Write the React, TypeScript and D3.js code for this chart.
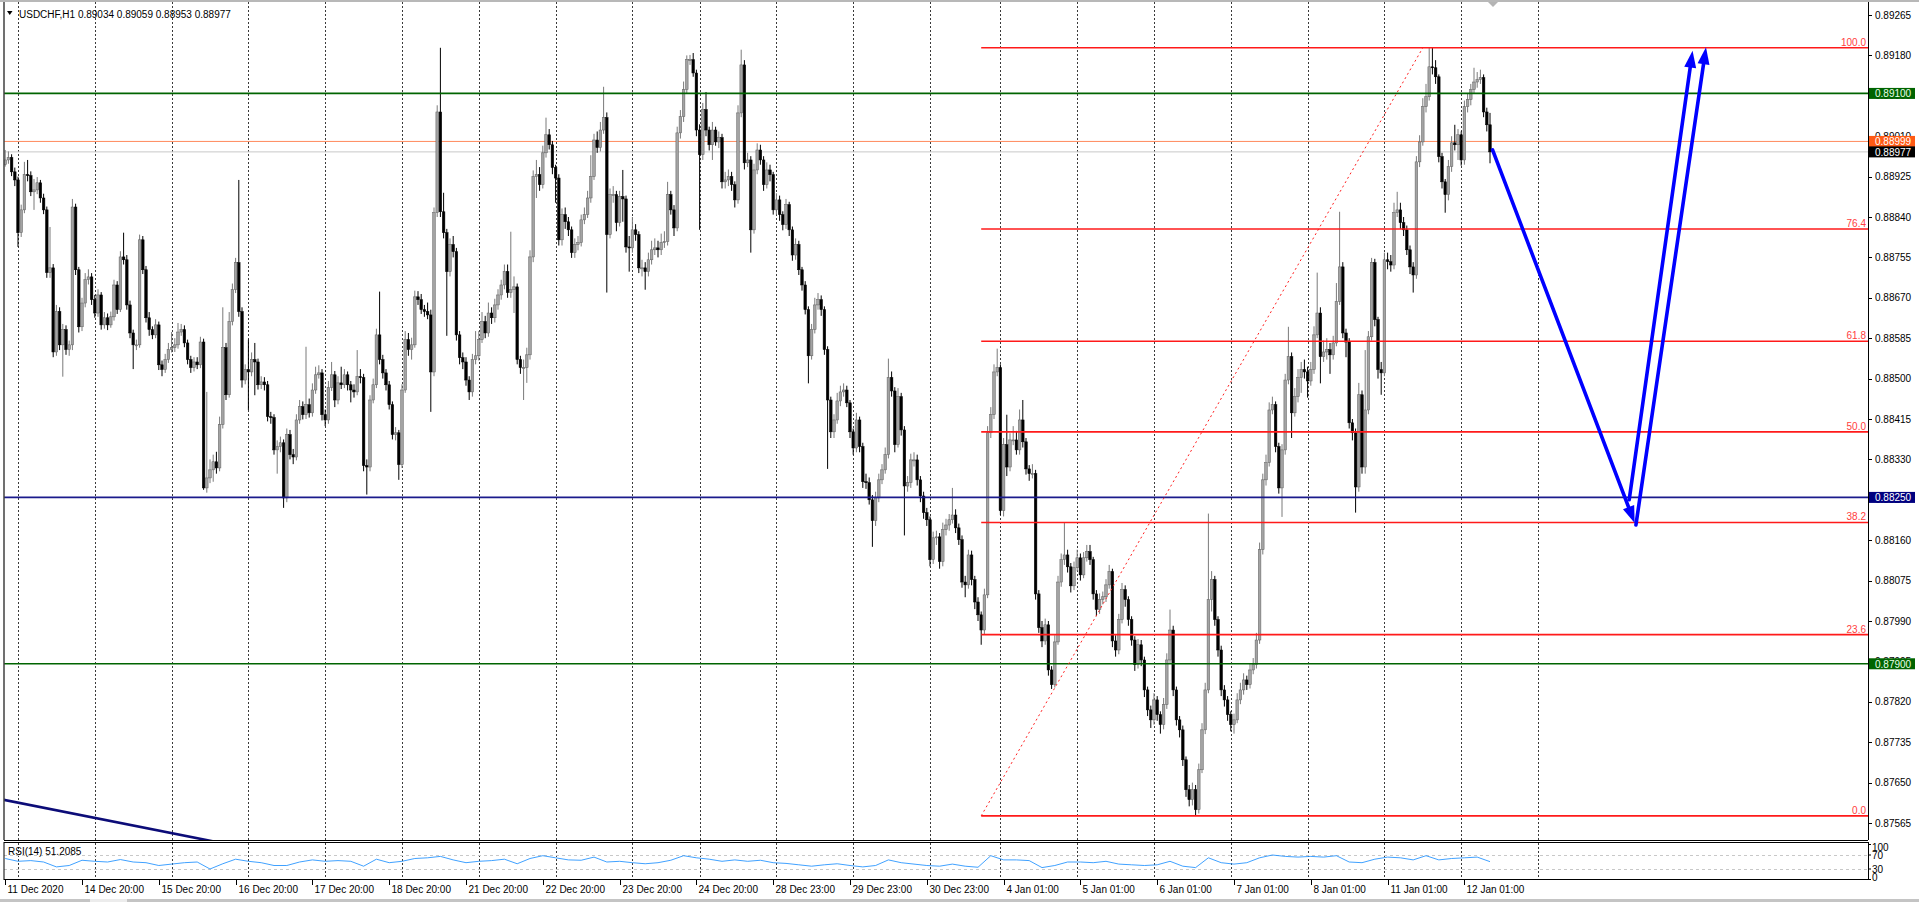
import React, { useEffect } from "react";
import * as d3 from "d3";

// ---------- DATA (prices in points of 1e-5) ----------
const symbolTitle = "USDCHF,H1";
const lastBarOHLC = ["0.89034", "0.89059", "0.88953", "0.88977"];
const firstOpen = 88950;

const closes = [
  88960,88965,88935,88918,88807,88855,88929,88927,88893,88897,
  88912,88880,88855,88723,88733,88556,88641,88571,88603,88561,
  88571,88861,88729,88609,88659,88708,88714,88666,88638,88676,
  88613,88628,88613,88630,88697,88645,88756,88750,88655,88596,
  88571,88571,88792,88729,88628,88603,88592,88613,88529,88519,
  88540,88561,88565,88571,88598,88603,88575,88540,88523,88535,
  88529,88577,88270,88291,88308,88325,88312,88403,88565,88466,
  88620,88687,88744,88641,88497,88519,88514,88540,88535,88487,
  88493,88487,88420,88418,88350,88357,88365,88249,88382,88340,
  88335,88413,88441,88424,88445,88428,88476,88508,88512,88424,
  88413,88481,88508,88455,88491,88487,88508,88487,88476,88472,
  88504,88502,88317,88314,88455,88487,88592,88540,88512,88487,
  88445,88382,88386,88319,88476,88582,88561,88571,88672,88666,
  88645,88641,88634,88514,88849,89061,88851,88807,88725,88782,
  88767,88592,88544,88535,88497,88472,88540,88548,88582,88620,
  88596,88638,88628,88655,88676,88697,88725,88681,88687,88693,
  88540,88523,88523,88550,88756,88925,88929,88908,88975,89013,
  88992,88944,88922,88792,88845,88830,88813,88765,88782,88786,
  88834,88845,88880,88925,89002,88986,89023,89049,88803,88887,
  88887,88828,88883,88878,88777,88775,88813,88803,88733,88733,
  88725,88750,88771,88775,88771,88786,88788,88887,88855,88817,
  89017,89051,89108,89171,89171,89143,89023,88971,89066,89023,
  88992,89023,88998,89007,88914,88918,88925,88908,88876,89059,
  89160,88954,88960,88813,88939,88981,88960,88908,88939,88929,
  88855,88876,88845,88824,88866,88813,88760,88782,88729,88697,
  88645,88548,88603,88655,88666,88645,88561,88455,88388,88413,
  88453,88472,88476,88449,88388,88354,88413,88357,88283,88281,
  88245,88201,88249,88287,88308,88340,88502,88474,88361,88462,
  88392,88274,88281,88329,88329,88287,88253,88218,88203,88119,
  88165,88167,88115,88182,88192,88203,88213,88186,88161,88072,
  88066,88129,88077,88030,88003,87971,88045,88386,88424,88514,
  88523,88222,88361,88314,88371,88371,88350,88413,88367,88310,
  88300,88300,88047,87976,87948,87982,87887,87856,87946,88072,
  88119,88129,88104,88064,88102,88123,88087,88123,88136,88119,
  88047,88014,88035,88041,88066,88094,87948,87929,87993,88056,
  88035,87993,87950,87898,87940,87908,87845,87803,87782,87824,
  87793,87772,87814,87908,87971,87845,87782,87761,87698,87635,
  87614,87635,87593,87677,87761,87845,88035,88077,87993,87929,
  87845,87824,87793,87772,87782,87824,87845,87866,87856,87887,
  87898,87950,88140,88287,88323,88434,88445,88357,88270,88350,
  88497,88546,88428,88462,88502,88519,88514,88495,88519,88592,
  88638,88546,88556,88561,88550,88575,88662,88735,88596,88577,
  88407,88386,88272,88466,88314,88434,88588,88744,88624,88519,
  88512,88750,88746,88739,88849,88855,88828,88813,88771,88735,
  88718,88956,88998,89072,89093,89156,89154,89135,88967,88914,
  88887,88946,88996,88992,89013,88960,89072,89087,89108,89124,
  89129,89133,89061,89034,88977,
];

const highs = [
  88981,88978,88972,88944,88925,88866,88956,88960,88936,88920,
  88924,88918,88889,88862,88819,88741,88655,88650,88615,88612,
  88580,88878,88868,88735,88670,88722,88730,88722,88676,88688,
  88682,88640,88637,88641,88708,88705,88768,88807,88760,88664,
  88603,88582,88803,88800,88737,88640,88610,88625,88620,88538,
  88552,88575,88598,88585,88617,88615,88612,88582,88548,88545,
  88545,88588,88584,88472,88330,88340,88346,88420,88650,88575,
  88640,88700,88754,88918,88650,88530,88582,88555,88575,88542,
  88505,88503,88495,88430,88425,88370,88378,88372,88395,88392,
  88352,88425,88455,88452,88567,88458,88490,88525,88528,88520,
  88435,88495,88535,88516,88505,88525,88520,88515,88495,88488,
  88560,88520,88510,88330,88465,88500,88605,88683,88550,88520,
  88495,88452,88398,88392,88488,88600,88596,88586,88685,88684,
  88678,88655,88660,88645,88860,89075,89196,88891,88815,88795,
  88800,88775,88600,88555,88545,88505,88552,88600,88600,88640,
  88632,88660,88650,88668,88688,88708,88740,88740,88809,88715,
  88700,88548,88540,88565,88770,88938,88960,88945,88990,89049,
  89025,89000,88950,88930,88858,88860,88840,88820,88795,88800,
  88845,88860,88895,88970,89015,89020,89040,89114,89060,88900,
  88905,88895,88895,88939,88885,88800,88840,88825,88810,88750,
  88745,88765,88790,88795,88790,88805,88810,88914,88895,88865,
  89030,89065,89125,89180,89181,89185,89150,89035,89080,89103,
  89030,89040,89030,89020,89015,88935,88940,88935,88915,89075,
  89192,89170,88975,88968,88952,88995,88992,88968,88955,88950,
  88935,88890,88885,88852,88878,88872,88820,88795,88790,88735,
  88705,88652,88615,88670,88680,88675,88652,88568,88462,88425,
  88470,88485,88490,88485,88455,88395,88428,88420,88365,88300,
  88292,88255,88262,88300,88320,88355,88542,88515,88482,88480,
  88470,88400,88295,88342,88345,88340,88295,88262,88228,88210,
  88178,88180,88175,88197,88205,88215,88270,88225,88195,88170,
  88085,88140,88138,88085,88040,88010,88058,88400,88440,88530,
  88563,88530,88375,88424,88385,88400,88390,88435,88455,88375,
  88318,88320,88308,88055,87990,87995,87990,87895,87960,88085,
  88132,88197,88140,88112,88115,88140,88132,88135,88150,88150,
  88125,88055,88048,88052,88078,88108,88100,87960,88005,88070,
  88065,88042,88000,87958,87952,87950,87915,87852,87812,87838,
  87832,87800,87828,87922,88014,87980,87852,87790,87770,87705,
  87645,87650,87645,87690,87775,87860,88216,88095,88085,88000,
  87938,87855,87832,87800,87795,87838,87860,87880,87875,87900,
  87912,87965,88155,88300,88340,88450,88462,88452,88365,88362,
  88510,88609,88555,88480,88520,88535,88540,88525,88535,88610,
  88723,88650,88580,88585,88575,88590,88701,88851,88745,88605,
  88585,88415,88395,88491,88475,88560,88600,88754,88752,88630,
  88535,88765,88765,88760,88870,88893,88870,88840,88822,88780,
  88745,88968,89012,89090,89120,89196,89196,89170,89140,88975,
  88920,88960,89010,89034,89025,89020,89085,89100,89120,89154,
  89145,89150,89140,89070,89059,
];

const lows = [
  88946,88952,88926,88905,88777,88798,88848,88915,88884,88855,
  88888,88870,88846,88712,88712,88545,88548,88560,88504,88550,
  88548,88560,88718,88597,88600,88650,88698,88655,88628,88630,
  88603,88605,88602,88607,88622,88636,88640,88740,88645,88585,
  88520,88560,88565,88720,88618,88590,88583,88585,88518,88505,
  88512,88533,88555,88556,88563,88590,88566,88530,88512,88515,
  88520,88522,88266,88260,88280,88283,88300,88305,88395,88455,
  88460,88612,88680,88630,88481,88488,88434,88505,88465,88477,
  88478,88475,88410,88405,88340,88300,88345,88228,88240,88330,
  88320,88328,88405,88414,88415,88418,88420,88468,88500,88412,
  88400,88405,88474,88440,88446,88478,88480,88475,88450,88460,
  88465,88490,88305,88256,88305,88448,88480,88530,88500,88475,
  88435,88372,88370,88287,88312,88470,88548,88540,88565,88655,
  88636,88630,88625,88430,88505,88840,88840,88795,88590,88715,
  88755,88580,88530,88520,88485,88455,88462,88530,88538,88575,
  88585,88588,88615,88618,88645,88666,88688,88670,88670,88638,
  88530,88510,88455,88491,88540,88745,88880,88895,88900,88965,
  88982,88930,88870,88780,88780,88815,88800,88754,88754,88770,
  88778,88825,88838,88870,88918,88975,88978,89015,88681,88795,
  88870,88810,88820,88830,88765,88725,88765,88790,88722,88715,
  88687,88715,88740,88760,88755,88760,88775,88780,88845,88800,
  88810,89005,89040,89100,89160,89135,89010,88813,88960,89010,
  88980,88960,88990,88985,88900,88900,88905,88895,88860,88868,
  89050,88940,88945,88765,88805,88930,88950,88895,88900,88915,
  88845,88845,88832,88812,88815,88800,88748,88750,88718,88685,
  88635,88490,88540,88595,88645,88632,88550,88310,88375,88375,
  88405,88442,88462,88440,88375,88340,88345,88345,88270,88268,
  88235,88146,88190,88240,88278,88300,88332,88462,88345,88355,
  88380,88170,88262,88270,88315,88275,88240,88205,88190,88105,
  88110,88150,88100,88105,88170,88180,88195,88175,88150,88060,
  88040,88058,88065,88015,87990,87940,87962,88038,88375,88415,
  88505,88213,88210,88295,88305,88360,88340,88340,88355,88298,
  88285,88290,88035,87965,87935,87940,87875,87847,87850,87940,
  88062,88108,88092,88050,88055,88095,88075,88080,88115,88108,
  88035,88000,88005,88025,88030,88058,87935,87915,87920,87985,
  88020,87980,87938,87885,87890,87895,87830,87790,87765,87772,
  87780,87753,87762,87805,87900,87832,87770,87745,87685,87620,
  87600,87602,87580,87585,87670,87752,87838,88010,87980,87915,
  87832,87810,87780,87758,87753,87775,87815,87835,87845,87848,
  87878,87890,87942,88130,88275,88315,88425,88345,88258,88209,
  88340,88488,88375,88420,88450,88470,88500,88460,88485,88510,
  88585,88490,88535,88540,88510,88540,88568,88655,88585,88545,
  88395,88370,88218,88262,88300,88300,88425,88580,88610,88500,
  88466,88505,88730,88725,88730,88840,88815,88800,88760,88720,
  88681,88710,88945,88990,89060,89085,89140,89120,88955,88900,
  88849,88875,88935,88980,88960,88948,88950,89060,89075,89100,
  89112,89120,89050,89020,88953,
];

// RSI(14) read every 4 bars
const rsiStep = 4;
const rsiValues = [
  60,52,54,50,36,40,55,52,50,57,50,48,40,44,48,50,30,45,58,52,
  48,40,40,50,56,52,54,52,38,58,48,52,60,62,66,56,48,52,54,58,
  45,60,68,62,56,55,64,50,52,48,45,48,55,68,62,58,52,56,52,55,
  48,46,42,38,42,45,40,36,40,56,48,44,40,38,44,38,35,68,56,56,
  54,34,40,50,50,48,52,44,42,40,42,52,38,34,62,48,44,48,62,70,
  66,64,66,64,68,50,48,58,64,62,56,68,56,60,62,64,51,
];
const rsiLabel = "RSI(14) 51.2085";
const rsiLevels = [70, 30];
const rsiAxisValues = [100, 70, 30, 0];

const priceTicks = [
  0.87565, 0.8765, 0.87735, 0.8782, 0.87905, 0.8799, 0.88075, 0.8816, 0.88245,
  0.8833, 0.88415, 0.885, 0.88585, 0.8867, 0.88755, 0.8884, 0.88925, 0.8901,
  0.89095, 0.8918, 0.89265,
];

const timeLabels = [
  "11 Dec 2020", "14 Dec 20:00", "15 Dec 20:00", "16 Dec 20:00", "17 Dec 20:00",
  "18 Dec 20:00", "21 Dec 20:00", "22 Dec 20:00", "23 Dec 20:00", "24 Dec 20:00",
  "28 Dec 23:00", "29 Dec 23:00", "30 Dec 23:00", "4 Jan 01:00", "5 Jan 01:00",
  "6 Jan 01:00", "7 Jan 01:00", "8 Jan 01:00", "11 Jan 01:00", "12 Jan 01:00",
];
const timeLabelStep = 24;
const gridBars = [4, 28, 52, 76, 100, 124, 148, 172, 196, 217, 241, 265, 289, 311, 335, 359, 383, 407, 431, 455, 479];

const greenLevels = [0.891, 0.879];
const navyLevels = [0.8825];
const bidPrice = 0.88977;
const askPrice = 0.88999;

const fibLow = 0.8758;
const fibHigh = 0.89196;
const fibStartBar = 305;
const fibEndBar = 443;
const fibLevels = [0, 23.6, 38.2, 50, 61.8, 76.4, 100];

const trendBars = [0, 63];
const trendPrices = [0.87613, 0.87529];

const arrowFromBars = [464.8, 507.5, 509.6];
const arrowFromPrices = [0.88981, 0.88245, 0.88192];
const arrowToBars = [509.2, 527.3, 531.5];
const arrowToPrices = [0.88196, 0.8919, 0.89197];

// ---------- COMPONENT ----------
const FONT = "'Liberation Sans', Arial, Helvetica, sans-serif";

export default function App() {
  useEffect(() => {
    document.body.style.margin = "0";
    document.body.style.overflow = "hidden";
  }, []);

  const W = 1919;
  const H = 902;
  const left = 4;
  const axisX = 1868;
  const mainTop = 2;
  const mainBottom = 840;
  const rsiTop = 843;
  const rsiBottom = 880;

  const n = Math.min(closes.length, highs.length, lows.length);
  const x = d3.scaleLinear().domain([0, 464]).range([5.2, 1490]);
  const y = d3.scaleLinear().domain([0.87565, 0.89265]).range([823, 15]);
  const yR = d3.scaleLinear().domain([0, 100]).range([879.5, 844.5]);
  const p = (v: number) => v / 100000;

  const candles = d3.range(n).map((i) => {
    const o = p(i === 0 ? firstOpen : closes[i - 1]);
    const c = p(closes[i]);
    return { i, o, c, h: p(highs[i]), l: p(lows[i]), bull: c >= o };
  });

  const rsiLine = d3
    .line<number>()
    .x((_, i) => x(i * rsiStep))
    .y((d) => yR(d))(rsiValues);

  const fmt = d3.format(".5f");

  const arrows = arrowFromBars.map((b, k) => {
    const x1 = x(b), y1 = y(arrowFromPrices[k]);
    const x2 = x(arrowToBars[k]), y2 = y(arrowToPrices[k]);
    const dx = x2 - x1, dy = y2 - y1;
    const len = Math.hypot(dx, dy);
    const ux = dx / len, uy = dy / len;
    const hl = 17, hw = 6;
    const bx = x2 - ux * hl, by = y2 - uy * hl;
    const head = `${x2},${y2} ${bx - uy * hw},${by + ux * hw} ${bx + uy * hw},${by - ux * hw}`;
    return { x1, y1, lx: x2 - ux * hl * 0.7, ly: y2 - uy * hl * 0.7, head };
  });

  const trendX1 = x(trendBars[0]);
  const trendY1 = y(trendPrices[0]);
  const trendX2 = x(trendBars[1]);
  const trendY2 = y(trendPrices[1]);

  const boxes = [
    { price: 0.891, bg: "#006400", fg: "#e8ffe8" },
    { price: 0.8825, bg: "#000080", fg: "#ffffff" },
    { price: 0.879, bg: "#006400", fg: "#e8ffe8" },
    { price: askPrice, bg: "#ff5a14", fg: "#ffffff" },
    { price: bidPrice, bg: "#000000", fg: "#ffffff" },
  ];

  return (
    <svg
      width={W}
      height={H}
      style={{ position: "absolute", left: 0, top: 0, display: "block", background: "#fff" }}
      fontFamily={FONT}
      fontSize={10}
    >
      <defs>
        <clipPath id="mainClip">
          <rect x={left} y={mainTop} width={axisX - left} height={mainBottom - mainTop} />
        </clipPath>
        <clipPath id="rsiClip">
          <rect x={left} y={rsiTop} width={axisX - left} height={rsiBottom - rsiTop} />
        </clipPath>
      </defs>
      <rect x={0} y={0} width={W} height={H} fill="#ffffff" />

      {/* window top edge */}
      <line x1={0} x2={W} y1={1} y2={1} stroke="#a0a0a0" strokeWidth={1.5} />

      {/* vertical grid */}
      <g clipPath="url(#mainClip)">
        {gridBars.map((b) => (
          <line key={b} x1={Math.round(x(b)) + 0.5} x2={Math.round(x(b)) + 0.5} y1={mainTop} y2={mainBottom}
            stroke="#3a3a3a" strokeWidth={1} strokeDasharray="2,2" />
        ))}
      </g>
      <g clipPath="url(#rsiClip)">
        {gridBars.map((b) => (
          <line key={b} x1={Math.round(x(b)) + 0.5} x2={Math.round(x(b)) + 0.5} y1={rsiTop} y2={rsiBottom}
            stroke="#3a3a3a" strokeWidth={1} strokeDasharray="2,2" />
        ))}
        {rsiLevels.map((v) => (
          <line key={v} x1={left} x2={axisX} y1={Math.round(yR(v)) + 0.5} y2={Math.round(yR(v)) + 0.5}
            stroke="#c8c8c8" strokeDasharray="3,3" />
        ))}
        <path d={rsiLine || ""} fill="none" stroke="#1e90ff" strokeWidth={1} opacity={0.85} />
      </g>

      <g clipPath="url(#mainClip)">
        {/* bid / ask lines */}
        <line x1={left} x2={axisX} y1={y(bidPrice)} y2={y(bidPrice)} stroke="#c8c8c8" strokeWidth={1} />
        <line x1={left} x2={axisX} y1={y(askPrice)} y2={y(askPrice)} stroke="#ff8a5c" strokeWidth={1} />

        {/* candles */}
        {candles.map((d) => {
          const cx = x(d.i);
          const top = y(Math.max(d.o, d.c));
          const bh = Math.max(1, Math.abs(y(d.o) - y(d.c)));
          return (
            <g key={d.i}>
              <line x1={cx} x2={cx} y1={y(d.h)} y2={y(d.l)} stroke={d.bull ? "#7a7a7a" : "#000"} strokeWidth={1} />
              <rect x={cx - 1.3} y={top} width={2.6} height={bh}
                fill={d.bull ? "#a3a3a3" : "#000"} stroke={d.bull ? "#5e5e5e" : "#000"} strokeWidth={0.5} />
            </g>
          );
        })}

        {/* horizontal levels */}
        {greenLevels.map((v) => (
          <line key={v} x1={left} x2={axisX} y1={y(v)} y2={y(v)} stroke="#006400" strokeWidth={1.6} />
        ))}
        {navyLevels.map((v) => (
          <line key={v} x1={left} x2={axisX} y1={y(v)} y2={y(v)} stroke="#1a1a8c" strokeWidth={1.6} />
        ))}

        {/* fibonacci */}
        <line x1={x(fibStartBar)} y1={y(fibLow)} x2={x(fibEndBar)} y2={y(fibHigh)}
          stroke="#ff2020" strokeWidth={1} strokeDasharray="2,3" />
        {fibLevels.map((lv) => {
          const yy = y(fibLow + ((fibHigh - fibLow) * lv) / 100);
          return (
            <g key={lv}>
              <line x1={x(fibStartBar)} x2={axisX} y1={yy} y2={yy} stroke="#ff1a1a" strokeWidth={1.6} />
              <text x={axisX - 2} y={yy - 2} textAnchor="end" fill="#ff4040">{lv.toFixed(1)}</text>
            </g>
          );
        })}

        {/* trend line */}
        <line x1={trendX1 - (trendX2 - trendX1) * 0.01} y1={trendY1 - (trendY2 - trendY1) * 0.01}
          x2={trendX2 + (trendX2 - trendX1) * 0.1} y2={trendY2 + (trendY2 - trendY1) * 0.1}
          stroke="#0c0c78" strokeWidth={2.6} />

        {/* arrows */}
        {arrows.map((a, k) => (
          <g key={k}>
            <line x1={a.x1} y1={a.y1} x2={a.lx} y2={a.ly} stroke="#0000ff" strokeWidth={3.6} strokeLinecap="round" />
            <polygon points={a.head} fill="#0000ff" />
          </g>
        ))}
      </g>

      {/* frames */}
      <line x1={left} x2={left} y1={mainTop} y2={mainBottom} stroke="#404040" strokeWidth={1.5} />
      <line x1={left} x2={axisX} y1={mainBottom + 0.5} y2={mainBottom + 0.5} stroke="#000" strokeWidth={1} />
      <line x1={axisX + 0.5} x2={axisX + 0.5} y1={mainTop} y2={mainBottom} stroke="#000" strokeWidth={1} />
      <rect x={left} y={rsiTop - 0.5} width={axisX - left + 0.5} height={rsiBottom - rsiTop} fill="none" stroke="#000" strokeWidth={1} />

      {/* top shift marker */}
      <polygon points="1488,2 1498,2 1493,7" fill="#b4b4b4" />

      {/* header */}
      <polygon points="7,11 12.5,11 9.75,15" fill="#000" />
      <text x={19} y={14.5} dominantBaseline="central" fill="#000">
        {symbolTitle + "  " + lastBarOHLC.join(" ")}
      </text>

      {/* price axis */}
      {priceTicks.map((t) => (
        <g key={t}>
          <line x1={axisX} x2={axisX + 4} y1={Math.round(y(t)) + 0.5} y2={Math.round(y(t)) + 0.5} stroke="#000" />
          <text x={axisX + 7} y={y(t)} dominantBaseline="central" fill="#000">{fmt(t)}</text>
        </g>
      ))}
      {boxes.map((b) => (
        <g key={b.price}>
          <rect x={axisX + 1} y={y(b.price) - 5.5} width={46} height={11} fill={b.bg} />
          <text x={axisX + 7} y={y(b.price) + 0.5} dominantBaseline="central" fill={b.fg}>{fmt(b.price)}</text>
        </g>
      ))}

      {/* rsi */}
      <text x={8} y={851} dominantBaseline="central" fill="#000">{rsiLabel}</text>
      {rsiAxisValues.map((v) => (
        <g key={v}>
          <line x1={axisX} x2={axisX + 3} y1={yR(v)} y2={yR(v)} stroke="#000" />
          <text x={axisX + 4} y={Math.min(877, Math.max(847, yR(v)))} dominantBaseline="central" fill="#000">{v}</text>
        </g>
      ))}

      {/* time axis */}
      {timeLabels.map((t, k) => {
        const lx = Math.round(x(k * timeLabelStep)) + 0.5;
        return (
          <g key={t}>
            <line x1={lx} x2={lx} y1={rsiBottom} y2={rsiBottom + 5} stroke="#000" />
            <text x={lx + 2} y={889.5} dominantBaseline="central" fill="#000">{t}</text>
          </g>
        );
      })}

      {/* bottom tab strip */}
      <rect x={0} y={899} width={W} height={3} fill="#c4c4c4" />
      <rect x={90} y={899} width={37} height={3} fill="#ececec" />
    </svg>
  );
}
